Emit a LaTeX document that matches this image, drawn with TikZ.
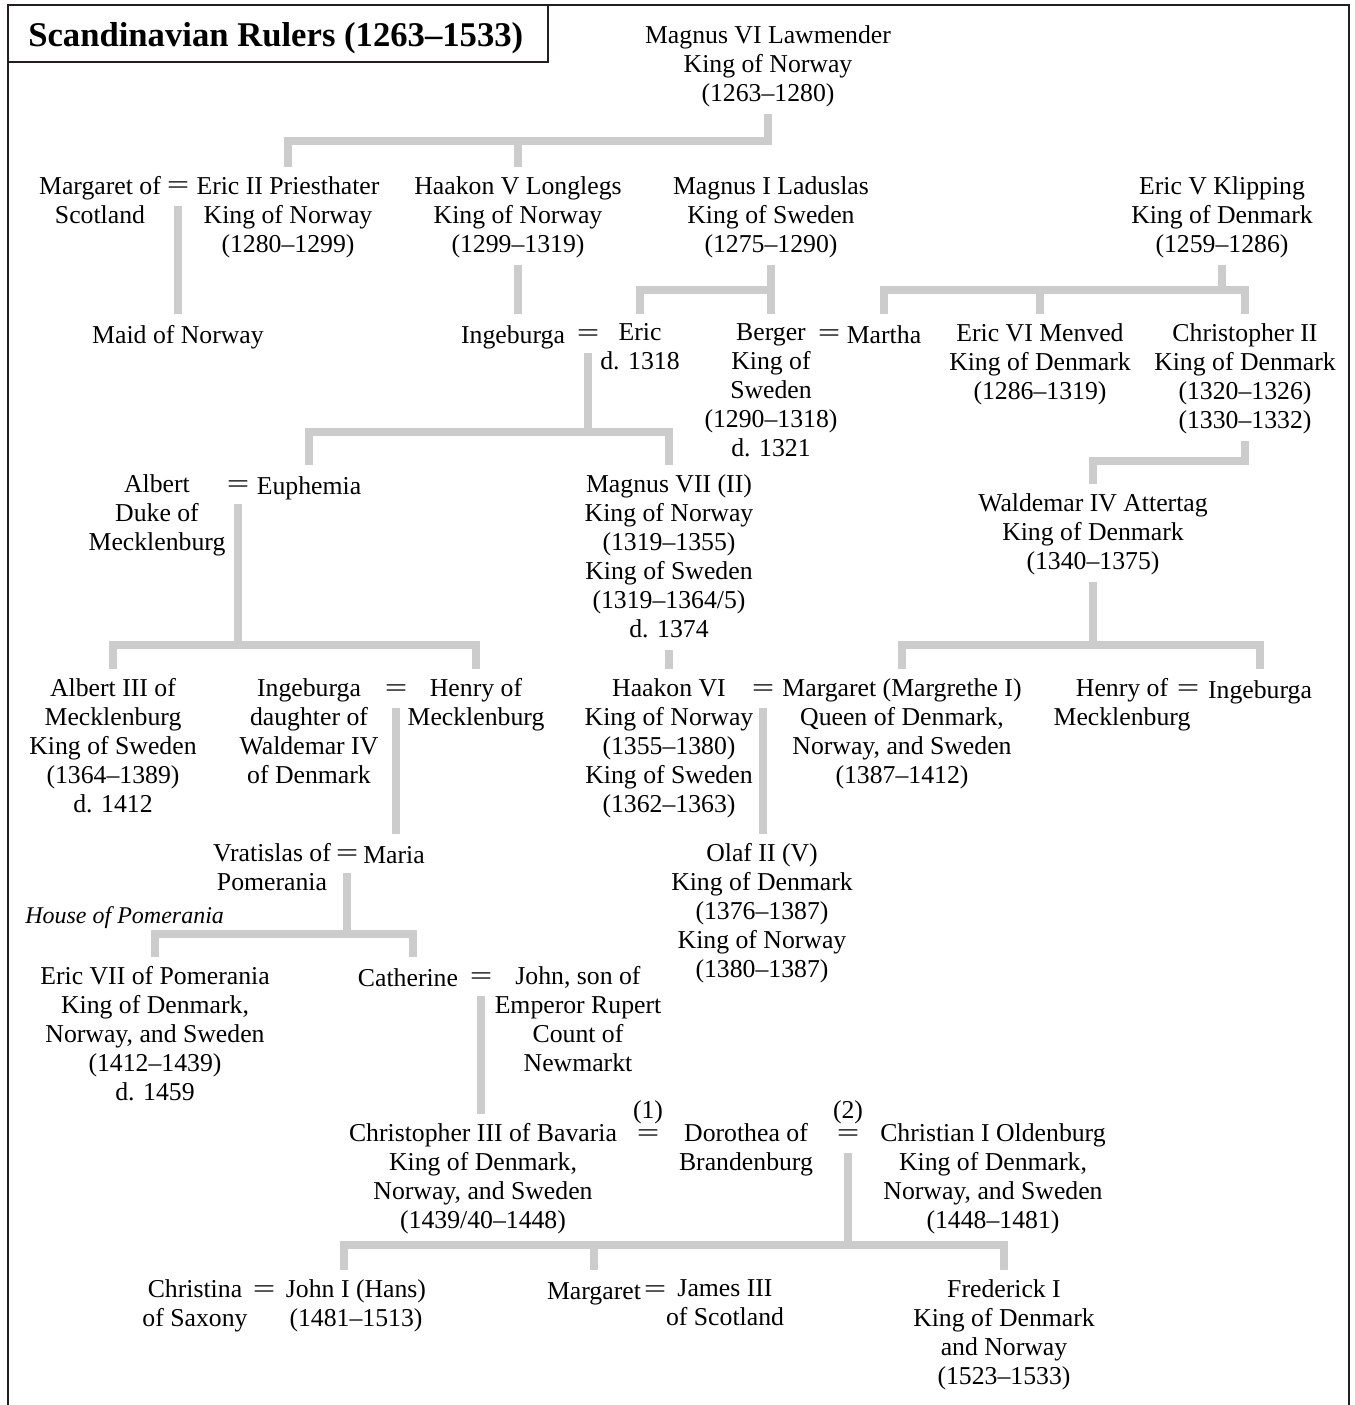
\documentclass[tikz,border=0pt]{standalone}
\usepackage{fontspec}
\setmainfont{Liberation Serif}
\usepackage{graphicx}
\usepackage{xcolor}
\usepackage{tikz}

\definecolor{kingray}{RGB}{204,204,204}
\definecolor{framegray}{RGB}{35,31,32}
\newcommand{\wedsign}{\scalebox{1.55}[1]{=}}

\begin{document}
\begin{tikzpicture}[
    x=0.75pt, y=-0.75pt,
    person/.style={anchor=north, yshift=9.5pt, inner sep=0pt, outer sep=2.5pt,
                   align=center, font=\fontsize{19.3}{21.75}\selectfont,
                   execute at begin node=\strut, execute at end node=\strut},
    wed/.style={anchor=base, yshift=-6pt, inner sep=0pt, outer sep=2.5pt,
                font=\fontsize{19.3}{21.75}\selectfont, text height=8pt, text depth=6.5pt},
    note/.style={anchor=base, inner sep=0pt, font=\fontsize{19.3}{21.75}\selectfont},
    kin/.style={draw=kingray, line width=6pt, shorten >=5pt},
    frame/.style={draw=framegray, line width=1.5pt}
]
\useasboundingbox (0,0) rectangle (1354,1405);

% === FRAME AND TITLE ===
\draw[frame] (8,1405) -- (8,5) -- (1349,5) -- (1349,1405);
\draw[frame] (8,62) -- (548,62) -- (548,5);
\node[anchor=base west, inner sep=0pt, font=\fontsize{26}{30}\selectfont\bfseries]
    (title) at (28,47) {Scandinavian Rulers (1263--1533)};

% === BAR LEVELS ===
\coordinate (b1) at (0,141);
\coordinate (b2) at (0,290);
\coordinate (b3) at (0,432);
\coordinate (b4) at (0,461);
\coordinate (b5) at (0,645);
\coordinate (b6) at (0,934);
\coordinate (b7) at (0,1245);

% === GENERATION 1 ===
\node[person] (magnus6) at (768,35) {Magnus VI Lawmender\\King of Norway\\(1263--1280)};

% === GENERATION 2 ===
\node[person] (margaretS) at (100,186) {Margaret of\\Scotland};
\node[wed] (m1) at (178,186) {\wedsign};
\node[person] (eric2) at (288,186) {Eric II Priesthater\\King of Norway\\(1280--1299)};
\node[person] (haakon5) at (518,186) {Haakon V Longlegs\\King of Norway\\(1299--1319)};
\node[person] (magnus1) at (771,186) {Magnus I Laduslas\\King of Sweden\\(1275--1290)};
\node[person] (eric5) at (1222,186) {Eric V Klipping\\King of Denmark\\(1259--1286)};

% === GENERATION 3 ===
\node[person] (maid) at (178,333) {Maid of Norway};
\node[person] (ingeburgaA) at (513,333) {Ingeburga};
\node[wed] (m2) at (588,333) {\wedsign};
\node[person] (ericD) at (640,333) {Eric\\d. 1318};
\node[person] (berger) at (771,333) {Berger\\King of\\Sweden\\(1290--1318)\\d. 1321};
\node[wed] (m3) at (829,333) {\wedsign};
\node[person] (martha) at (884,333) {Martha};
\node[person] (eric6) at (1040,333) {Eric VI Menved\\King of Denmark\\(1286--1319)};
\node[person] (chris2) at (1245,333) {Christopher II\\King of Denmark\\(1320--1326)\\(1330--1332)};

% === GENERATION 4 ===
\node[person] (albert) at (157,484) {Albert\\Duke of\\Mecklenburg};
\node[wed] (m4) at (238,484) {\wedsign};
\node[person] (euphemia) at (309,484) {Euphemia};
\node[person] (magnus7) at (669,484) {Magnus VII (II)\\King of Norway\\(1319--1355)\\King of Sweden\\(1319--1364/5)\\d. 1374};
\node[person] (waldemar) at (1093,503) {Waldemar IV Attertag\\King of Denmark\\(1340--1375)};

% === GENERATION 5 ===
\node[person] (albert3) at (113,688) {Albert III of\\Mecklenburg\\King of Sweden\\(1364--1389)\\d. 1412};
\node[person] (ingeburgaB) at (309,688) {Ingeburga\\daughter of\\Waldemar IV\\of Denmark};
\node[wed] (m5) at (396,688) {\wedsign};
\node[person] (henryA) at (476,688) {Henry of\\Mecklenburg};
\node[person] (haakon6) at (669,688) {Haakon VI\\King of Norway\\(1355--1380)\\King of Sweden\\(1362--1363)};
\node[wed] (m6) at (763,688) {\wedsign};
\node[person] (margaret1) at (902,688) {Margaret (Margrethe I)\\Queen of Denmark,\\Norway, and Sweden\\(1387--1412)};
\node[person] (henryB) at (1122,688) {Henry of\\Mecklenburg};
\node[wed] (m7) at (1188,688) {\wedsign};
\node[person] (ingeburgaC) at (1260,688) {Ingeburga};

% === GENERATION 6 ===
\node[person] (vratislas) at (272,853) {Vratislas of\\Pomerania};
\node[wed] (m8) at (347,853) {\wedsign};
\node[person] (maria) at (394,853) {Maria};
\node[person] (olaf) at (762,853) {Olaf II (V)\\King of Denmark\\(1376--1387)\\King of Norway\\(1380--1387)};
\node[person, anchor=north west, font=\fontsize{18}{21.75}\selectfont\itshape]
    (house) at (22,913) {House of Pomerania};

% === GENERATION 7 ===
\node[person] (eric7) at (155,976) {Eric VII of Pomerania\\King of Denmark,\\Norway, and Sweden\\(1412--1439)\\d. 1459};
\node[person] (catherine) at (408,976) {Catherine};
\node[wed] (m9) at (481,976) {\wedsign};
\node[person] (john) at (578,976) {John, son of\\Emperor Rupert\\Count of\\Newmarkt};

% === GENERATION 8 ===
\node[person] (chris3) at (483,1133) {Christopher III of Bavaria\\King of Denmark,\\Norway, and Sweden\\(1439/40--1448)};
\node[wed] (m10) at (648,1133) {\wedsign};
\node[note] (n1) at (648,1118) {(1)};
\node[person] (dorothea) at (746,1133) {Dorothea of\\Brandenburg};
\node[wed] (m11) at (848,1133) {\wedsign};
\node[note] (n2) at (848,1118) {(2)};
\node[person] (christian) at (993,1133) {Christian I Oldenburg\\King of Denmark,\\Norway, and Sweden\\(1448--1481)};

% === GENERATION 9 ===
\node[person] (christina) at (195,1289) {Christina\\of Saxony};
\node[wed] (m12) at (264,1289) {\wedsign};
\node[person] (john1) at (356,1289) {John I (Hans)\\(1481--1513)};
\node[person] (margaret3) at (594,1289) {Margaret};
\node[wed] (m13) at (655,1289) {\wedsign};
\node[person] (james) at (725,1289) {James III\\of Scotland};
\node[person] (frederick) at (1004,1289) {Frederick I\\King of Denmark\\and Norway\\(1523--1533)};

% === LINES OF DESCENT ===
\draw[kin] (magnus6) -- (magnus6 |- b1) -| (eric2);
\draw[kin] (magnus6 |- b1) -| (haakon5);
\draw[kin] (m1) -- (m1 |- maid.north);
\draw[kin] (haakon5) -- (haakon5 |- ingeburgaA.north);
\draw[kin] (magnus1) -- (magnus1 |- b2) -| (ericD);
\draw[kin] (magnus1 |- b2) -| (berger);
\draw[kin] (eric5) -- (eric5 |- b2) -| (martha);
\draw[kin] (eric5 |- b2) -| (eric6);
\draw[kin] (eric5 |- b2) -| (chris2);
\draw[kin] (m2) -- (m2 |- b3) -| (euphemia);
\draw[kin] (m2 |- b3) -| (magnus7);
\draw[kin] (chris2) -- (chris2 |- b4) -| (waldemar);
\draw[kin] (m4) -- (m4 |- b5) -| (albert3);
\draw[kin] (m4 |- b5) -| (henryA);
\draw[kin] (magnus7) -- (haakon6);
\draw[kin] (waldemar) -- (waldemar |- b5) -| (margaret1);
\draw[kin] (waldemar |- b5) -| (ingeburgaC);
\draw[kin] (m5) -- (m5 |- maria.north);
\draw[kin] (m6) -- (m6 |- olaf.north);
\draw[kin] (m8) -- (m8 |- b6) -| (eric7);
\draw[kin] (m8 |- b6) -| ([xshift=3.5pt]catherine.north);
\draw[kin] (m9) -- (m9 |- chris3.north);
\draw[kin] (m11) -- (m11 |- b7) -| ([xshift=-9pt]john1.north);
\draw[kin] (m11 |- b7) -| (margaret3);
\draw[kin] (m11 |- b7) -| (frederick);

\end{tikzpicture}
\end{document}
